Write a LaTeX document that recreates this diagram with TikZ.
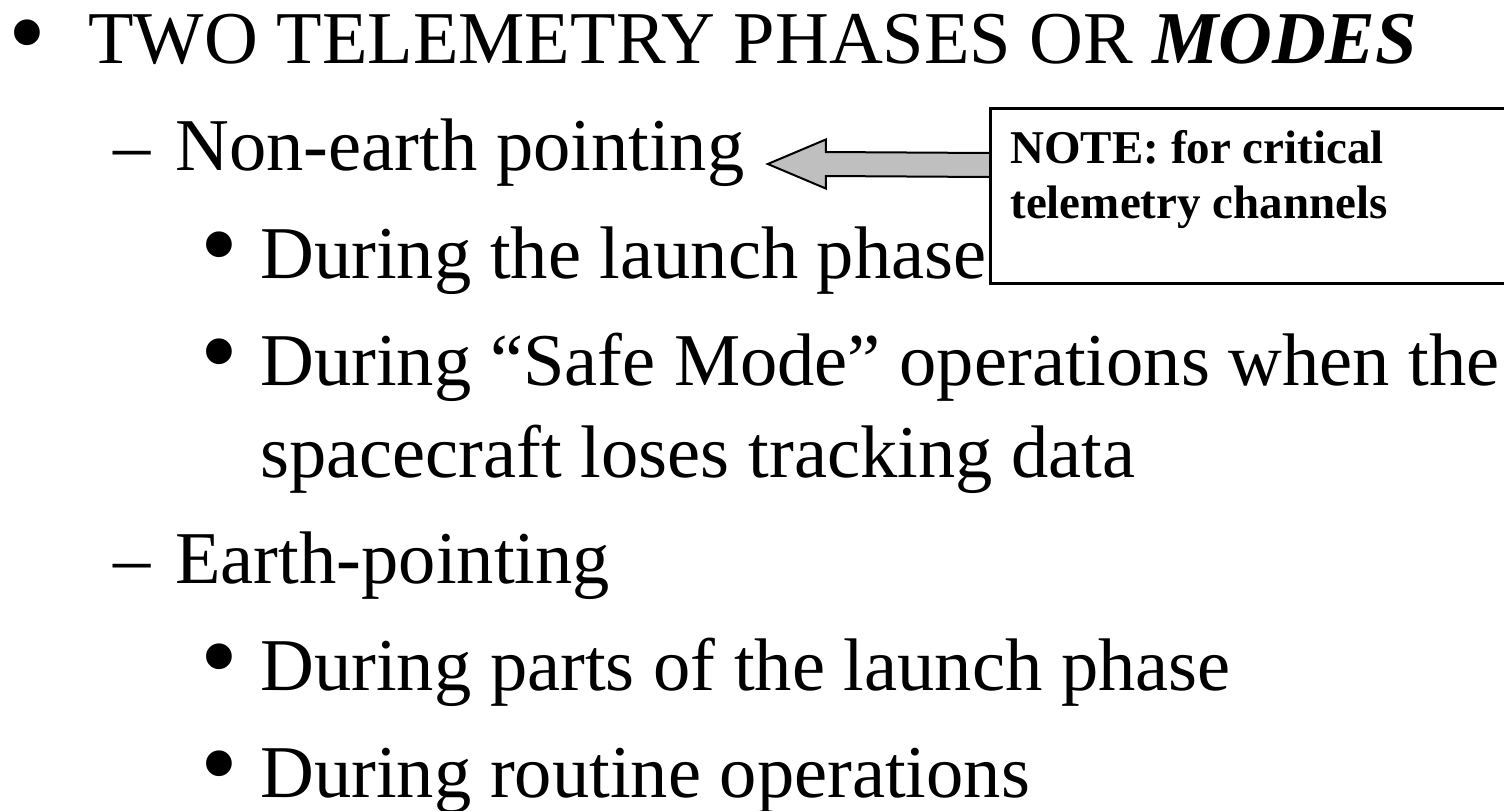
\documentclass[tikz,border=0pt]{standalone}
\usepackage{fontspec}
\setmainfont{Liberation Serif}
\usetikzlibrary{calc}

\begin{document}
\begin{tikzpicture}[x=0.5pt,y=-0.5pt,
  line/.style={anchor=base west,inner sep=0pt,font=\fontsize{37.25}{44}\selectfont},
  bulletmark/.style={anchor=base west,inner sep=0pt,font=\fontsize{54}{60}\selectfont},
  notebox/.style={anchor=north west,minimum width=320pt,minimum height=87.5pt,inner sep=0pt},
  boxline/.style={line width=1.5pt,line join=miter},
  notetext/.style={anchor=base west,inner sep=0pt,font=\fontsize{23.5}{28}\selectfont\bfseries},
  blockarrow/.style={draw,fill=black!25,line width=1pt,line join=miter}]
\useasboundingbox (0,0) rectangle (1504,810);
% ---- level one ----
\node[bulletmark] (b1) at (8,68) {•};
\node[line] (title) at (88,63) {TWO TELEMETRY PHASES OR \textbf{\textit{MODES}}};
% ---- non-earth pointing ----
\node[line] (d1) at (113,170) {–};
\node[line] (nonearth) at (175,170) {Non-earth pointing};
\node[bulletmark] (b2) at (200,280) {•};
\node[line] (launch) at (260,278) {During the launch phase};
\node[bulletmark] (b3) at (200,387) {•};
\node[line] (safe) at (260,385) {During “Safe Mode” operations when the};
\node[line] (safecont) at (260,477) {spacecraft loses tracking data};
% ---- earth pointing ----
\node[line] (d2) at (113,583) {–};
\node[line] (earth) at (175,583) {Earth-pointing};
\node[bulletmark] (b4) at (200,692) {•};
\node[line] (parts) at (260,690) {During parts of the launch phase};
\node[bulletmark] (b5) at (200,799) {•};
\node[line] (routine) at (260,797) {During routine operations};
% ---- note box and arrow ----
\node[notebox] (note) at (990,108) {};
\draw[boxline] (note.north east) -- (note.north west) -- (note.south west) -- (note.south east);
\node[notetext] (note1) at (1010,163) {NOTE: for critical};
\node[notetext] (note2) at (1010,218) {telemetry channels};
\coordinate (tip) at ($(nonearth.base east)+(23,-6)$);
\coordinate (tail) at ($(note.north west)+(0,57)$);
\path (tip) ++(58,0) coordinate (neck);
\draw[blockarrow] (tip) -- ($(neck)+(0,-24.5)$) -- ($(neck)+(0,-12)$)
  -- ($(tail)+(0,-12)$) -- ($(tail)+(0,12)$) -- ($(neck)+(0,12)$)
  -- ($(neck)+(0,24.5)$) -- cycle;
\end{tikzpicture}
\end{document}
